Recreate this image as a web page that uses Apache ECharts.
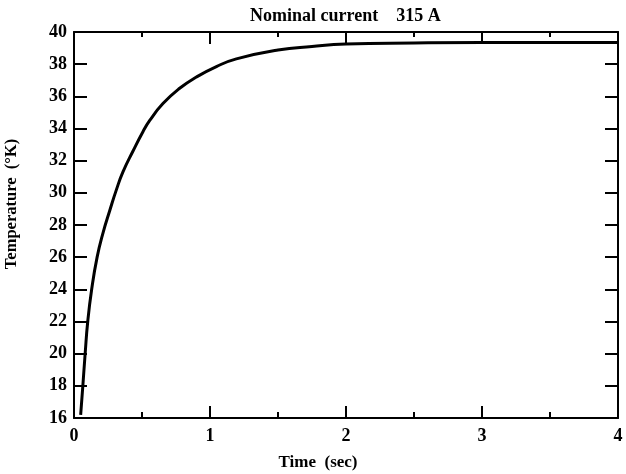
<!doctype html>
<html>

<head>
    <meta charset="utf-8">
    <title>Nominal current 315 A</title>
    <script type="text/javascript" src="https://cdn.jsdelivr.net/npm/echarts@6/dist/echarts.min.js"></script>
</head>

<body style="margin:0;padding:0;background:#fff">
    <div id="tb" style="width:626px;height:474px"></div>
    <script>
        // values
        var timeSec = [0.049, 0.065, 0.082, 0.101, 0.13, 0.17, 0.213, 0.263, 0.312, 0.36, 0.434, 0.507, 0.557, 0.654, 0.777, 0.90, 1.047, 1.194, 1.5, 1.75, 2.0, 2.5, 3.0, 3.5, 4.0];
        var tempK = [16.2, 18, 20, 22, 24, 26, 27.5, 28.9, 30.2, 31.3, 32.6, 33.8, 34.5, 35.55, 36.5, 37.2, 37.85, 38.33, 38.88, 39.1, 39.25, 39.32, 39.35, 39.35, 39.35];
        var xTicks = [0, 4, 1];   // min, max, interval
        var yTicks = [16, 40, 2];

        var font = 'Liberation Serif';
        var points = timeSec.map(function (t, i) { return [t, tempK[i]]; });

        var chart = echarts.init(document.getElementById('tb'));

        var lineStyle = { color: '#000', width: 2 };
        function xAx(pos, showLabel) {
            return {
                type: 'value', position: pos,
                min: xTicks[0], max: xTicks[1], interval: xTicks[2],
                axisLine: { show: true, onZero: false, lineStyle: lineStyle },
                axisTick: { show: true, inside: true, length: 12, lineStyle: lineStyle },
                minorTick: { show: true, splitNumber: 2, length: 6, lineStyle: lineStyle },
                splitLine: { show: false },
                axisLabel: {
                    show: showLabel, margin: 9, color: '#000',
                    fontFamily: font, fontWeight: 'bold', fontSize: 18
                }
            };
        }
        function yAx(pos, showLabel) {
            return {
                type: 'value', position: pos,
                min: yTicks[0], max: yTicks[1], interval: yTicks[2],
                axisLine: { show: true, onZero: false, lineStyle: lineStyle },
                axisTick: { show: true, inside: true, length: 13, lineStyle: lineStyle },
                splitLine: { show: false },
                axisLabel: {
                    show: showLabel, margin: 7, color: '#000',
                    fontFamily: font, fontWeight: 'bold', fontSize: 18
                }
            };
        }

        var xBottom = xAx('bottom', true);
        xBottom.name = 'Time  (sec)';
        xBottom.nameLocation = 'middle';
        xBottom.nameGap = 36;
        xBottom.nameTextStyle = { color: '#000', fontFamily: font, fontWeight: 'bold', fontSize: 17, padding: [0, 56, 0, 0] };

        var yLeft = yAx('left', true);
        yLeft.name = 'Temperature  (°K)';
        yLeft.nameLocation = 'middle';
        yLeft.nameGap = 54;
        yLeft.nameTextStyle = { color: '#000', fontFamily: font, fontWeight: 'bold', fontSize: 16.5, padding: [0, 0, 0, 42] };

        var xTop = xAx('top', false);
        xTop.minorTick.length = 5;

        chart.setOption({
            animation: false,
            title: {
                text: 'Nominal current    315 A',
                left: 245, top: 2,
                textStyle: { color: '#000', fontFamily: font, fontWeight: 'bold', fontSize: 18 }
            },
            grid: { left: 74, right: 8, top: 32, bottom: 56, outerBoundsMode: 'none', containLabel: false },
            xAxis: [xBottom, xTop],
            yAxis: [yLeft, yAx('right', false)],
            series: [{
                type: 'line',
                data: points,
                smooth: 0.5,
                symbol: 'none',
                lineStyle: { color: '#000', width: 3 }
            }]
        });
    </script>
</body>

</html>
